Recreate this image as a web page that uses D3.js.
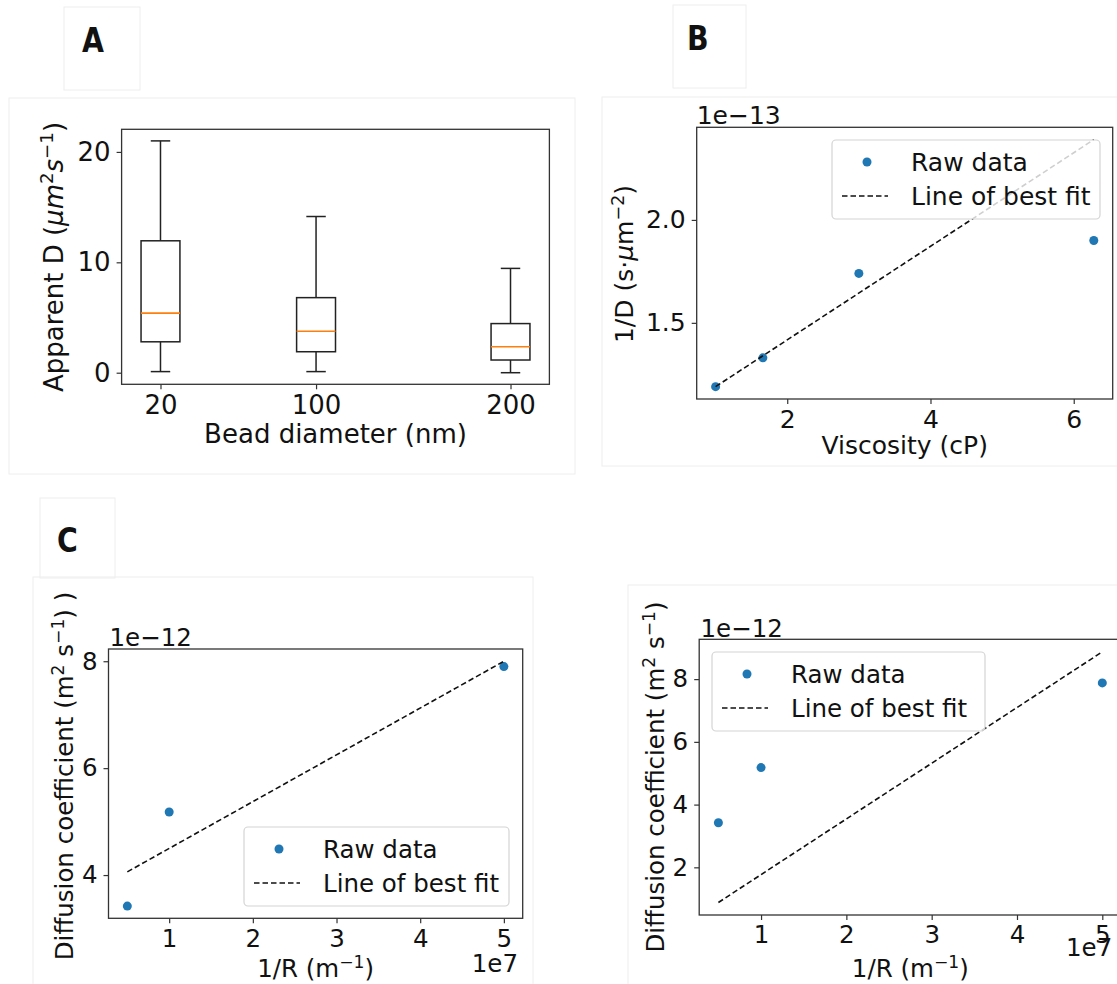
<!DOCTYPE html>
<meta charset="utf-8">
<script src="https://d3js.org/d3.v7.min.js"></script>
<style>
  body { margin: 0; background: #fff; }
  text { font-family: "DejaVu Sans", sans-serif; fill: #111; }
</style>
<svg id="fig" width="1117" height="984"></svg>
<script>

// ---- Panel A : apparent D vs bead diameter (box plot) ----
var beadDiameter = [20, 100, 200];
var whiskerLow   = [0.1, 0.1, 0.0];
var quartile1    = [2.8, 1.9, 1.15];
var medianD      = [5.4, 3.75, 2.35];
var quartile3    = [11.95, 6.8, 4.45];
var whiskerHigh  = [21.0, 14.15, 9.45];
var ticksA = [0, 10, 20];

// ---- Panel B : 1/D vs viscosity (x 1e-13) ----
var viscosity = [1.0, 1.66, 3.0, 6.28];
var invD      = [1.19, 1.33, 1.74, 1.90];
var fitViscosity = [1.0, 6.28];
var fitInvD      = [1.19, 2.39];

// ---- Panel C : diffusion coefficient (x 1e-12) vs 1/R (x 1e7) ----
var invR      = [0.5, 1.0, 5.0];
var diffLeft  = [3.42, 5.18, 7.90];
var diffRight = [3.42, 5.18, 7.88];
var fitInvR      = [0.5, 5.0];
var fitDiffLeft  = [4.06, 8.0];
var fitDiffRight = [0.88, 8.87];

var svg = d3.select("#fig");
var blue = "#1f77b4";

// matplotlib style 5% margins
function pad(ext) {
  var s = ext[1] - ext[0];
  return [ext[0] - 0.05 * s, ext[1] + 0.05 * s];
}

// text with simple mathtext pieces: {t, it, sup}
function rich(sel, parts, fs) {
  var shift = 0.38 * fs;
  var up = false;
  parts.forEach(function (p) {
    var ts = sel.append("tspan").text(p.t);
    if (p.it) ts.attr("font-style", "italic");
    if (p.sup && !up) { ts.attr("dy", -shift); up = true; }
    else if (!p.sup && up) { ts.attr("dy", shift); up = false; }
    if (p.sup) ts.attr("font-size", 0.7 * fs);
  });
  return sel;
}

function makeAxes(o) {
  var g = svg.append("g");
  var x = d3.scaleLinear().domain(o.xDomain).range([o.l, o.r]);
  var y = d3.scaleLinear().domain(o.yDomain).range([o.b, o.t]);

  var ax = g.append("g").attr("transform", "translate(0," + o.b + ")")
    .call(d3.axisBottom(x).tickValues(o.xTicks).tickFormat(o.xFormat || d3.format("d"))
      .tickSize(5).tickPadding(6).tickSizeOuter(0));
  var ay = g.append("g").attr("transform", "translate(" + o.l + ",0)")
    .call(d3.axisLeft(y).tickValues(o.yTicks).tickFormat(o.yFormat || d3.format("d"))
      .tickSize(5).tickPadding(6).tickSizeOuter(0));
  [ax, ay].forEach(function (a) {
    a.select(".domain").remove();
    a.selectAll("line").attr("stroke", "#333").attr("stroke-width", 1.2);
    a.selectAll("text").attr("font-size", o.fs).attr("fill", "#111")
      .attr("font-family", "DejaVu Sans, sans-serif");
  });

  var plot = g.append("g");
  g.append("rect")
    .attr("x", o.l).attr("y", o.t)
    .attr("width", o.r - o.l).attr("height", o.b - o.t)
    .attr("fill", "none").attr("stroke", "#333").attr("stroke-width", 1.3);
  return { g: g, plot: plot, x: x, y: y };
}

function legend(g, lx, ly, w, fs) {
  var h = 79;
  g.append("rect").attr("x", lx).attr("y", ly).attr("width", w).attr("height", h)
    .attr("rx", 4).attr("fill", "#fff").attr("fill-opacity", 0.8)
    .attr("stroke", "#d4d4d4").attr("stroke-width", 1.2);
  g.append("circle").attr("cx", lx + 35).attr("cy", ly + 22).attr("r", 4.5).attr("fill", blue);
  g.append("text").attr("x", lx + 79).attr("y", ly + 22).attr("dy", "0.36em")
    .attr("font-size", fs).text("Raw data");
  g.append("line").attr("x1", lx + 10).attr("x2", lx + 56)
    .attr("y1", ly + 56).attr("y2", ly + 56)
    .attr("stroke", "#111").attr("stroke-width", 1.6).attr("stroke-dasharray", "5.5,3");
  g.append("text").attr("x", lx + 79).attr("y", ly + 56).attr("dy", "0.36em")
    .attr("font-size", fs).text("Line of best fit");
}

function scatterFit(ax, xs, ys, fx, fy) {
  ax.plot.selectAll("circle.pt").data(xs).enter().append("circle")
    .attr("class", "pt")
    .attr("cx", function (d) { return ax.x(d); })
    .attr("cy", function (d, i) { return ax.y(ys[i]); })
    .attr("r", 4.5).attr("fill", blue);
  var line = d3.line()
    .x(function (d) { return ax.x(d); })
    .y(function (d, i) { return ax.y(fy[i]); });
  ax.plot.append("path").datum(fx).attr("d", line)
    .attr("fill", "none").attr("stroke", "#111").attr("stroke-width", 1.6)
    .attr("stroke-dasharray", "5.5,3");
}

// faint frames of the pasted figure parts
var frames = [[9, 98, 566, 376], [602, 97, 520, 369], [33, 577, 500, 410], [628, 585, 495, 402],
              [64, 7, 76, 83], [673, 5, 73, 83], [40, 498, 75, 80]];
svg.selectAll("rect.frame").data(frames).enter().append("rect")
  .attr("x", function (d) { return d[0]; }).attr("y", function (d) { return d[1]; })
  .attr("width", function (d) { return d[2]; }).attr("height", function (d) { return d[3]; })
  .attr("fill", "none").attr("stroke", "#eeeeee").attr("stroke-width", 1);

// panel letters
var letters = [["A", 82, 52], ["B", 687, 50], ["C", 57, 552]];
svg.selectAll("text.letter").data(letters).enter().append("text")
  .attr("transform", function (d) { return "translate(" + d[1] + "," + d[2] + ") scale(0.86,1)"; })
  .attr("font-family", "Liberation Sans Narrow, DejaVu Sans Condensed, sans-serif")
  .attr("font-weight", "bold").attr("font-size", 33).attr("fill", "#000")
  .text(function (d) { return d[0]; });

// ================= Panel A =================
var boxWidth = 20;
var fsA = 26;
var A = makeAxes({
  l: 121.6, t: 129.3, r: 549.4, b: 384.3, fs: fsA,
  xDomain: pad([d3.min(beadDiameter) - boxWidth / 2, d3.max(beadDiameter) + boxWidth / 2]),
  yDomain: pad([d3.min(whiskerLow), d3.max(whiskerHigh)]),
  xTicks: beadDiameter, yTicks: ticksA
});
var boxes = A.plot.selectAll("g.box").data(beadDiameter).enter().append("g").attr("class", "box");
boxes.each(function (d, i) {
  var g = d3.select(this);
  var cx = A.x(d), x0 = A.x(d - boxWidth / 2), x1 = A.x(d + boxWidth / 2);
  var c0 = A.x(d - boxWidth / 4), c1 = A.x(d + boxWidth / 4);
  g.append("line").attr("x1", cx).attr("x2", cx).attr("y1", A.y(whiskerLow[i])).attr("y2", A.y(quartile1[i]));
  g.append("line").attr("x1", cx).attr("x2", cx).attr("y1", A.y(quartile3[i])).attr("y2", A.y(whiskerHigh[i]));
  g.append("line").attr("x1", c0).attr("x2", c1).attr("y1", A.y(whiskerLow[i])).attr("y2", A.y(whiskerLow[i]));
  g.append("line").attr("x1", c0).attr("x2", c1).attr("y1", A.y(whiskerHigh[i])).attr("y2", A.y(whiskerHigh[i]));
  g.append("rect").attr("x", x0).attr("y", A.y(quartile3[i]))
    .attr("width", x1 - x0).attr("height", A.y(quartile1[i]) - A.y(quartile3[i]))
    .attr("fill", "none");
  g.selectAll("line, rect").attr("stroke", "#222").attr("stroke-width", 1.5);
  g.append("line").attr("x1", x0).attr("x2", x1).attr("y1", A.y(medianD[i])).attr("y2", A.y(medianD[i]))
    .attr("stroke", "#ff7f0e").attr("stroke-width", 1.6);
});
svg.append("text").attr("x", 335.5).attr("y", 443).attr("text-anchor", "middle")
  .attr("font-size", fsA).text("Bead diameter (nm)");
rich(svg.append("text").attr("transform", "translate(63,257) rotate(-90)")
  .attr("text-anchor", "middle").attr("font-size", fsA),
  [{ t: "Apparent D (" }, { t: "μm", it: true }, { t: "2", sup: true }, { t: "s", it: true },
   { t: "−1", sup: true }, { t: ")" }], fsA);

// ================= Panel B =================
var fsB = 25;
var B = makeAxes({
  l: 696.7, t: 127.3, r: 1112.7, b: 399, fs: fsB,
  xDomain: pad(d3.extent(fitViscosity.concat(viscosity))),
  yDomain: pad(d3.extent(fitInvD.concat(invD))),
  xTicks: [2, 4, 6], yTicks: [1.5, 2.0], yFormat: d3.format(".1f")
});
scatterFit(B, viscosity, invD, fitViscosity, fitInvD);
legend(svg, 832, 140, 268, fsB);
svg.append("text").attr("x", 696.7).attr("y", 124).attr("font-size", fsB).text("1e−13");
svg.append("text").attr("x", 904.7).attr("y", 454).attr("text-anchor", "middle")
  .attr("font-size", fsB).text("Viscosity (cP)");
rich(svg.append("text").attr("transform", "translate(633,264) rotate(-90)")
  .attr("text-anchor", "middle").attr("font-size", fsB),
  [{ t: "1/D (s·" }, { t: "μ", it: true }, { t: "m" }, { t: "−2", sup: true }, { t: ")" }], fsB);

// ================= Panel C (left) =================
var fsC = 24.5;
var CL = makeAxes({
  l: 108.5, t: 649, r: 522.7, b: 918.3, fs: fsC,
  xDomain: pad(d3.extent(invR)),
  yDomain: pad(d3.extent(fitDiffLeft.concat(diffLeft))),
  xTicks: [1, 2, 3, 4, 5], yTicks: [4, 6, 8]
});
scatterFit(CL, invR, diffLeft, fitInvR, fitDiffLeft);
legend(svg, 244, 827, 265, fsC);
svg.append("text").attr("x", 109.5).attr("y", 646).attr("font-size", fsC).text("1e−12");
svg.append("text").attr("x", 518).attr("y", 972).attr("text-anchor", "end")
  .attr("font-size", fsC).text("1e7");
rich(svg.append("text").attr("x", 315.6).attr("y", 977).attr("text-anchor", "middle").attr("font-size", fsC),
  [{ t: "1/R (m" }, { t: "−1", sup: true }, { t: ")" }], fsC);
rich(svg.append("text").attr("transform", "translate(73,776) rotate(-90)")
  .attr("text-anchor", "middle").attr("font-size", fsC),
  [{ t: "Diffusion coefficient (m" }, { t: "2", sup: true }, { t: " s" }, { t: "−1", sup: true }, { t: ") )" }], fsC);

// ================= Panel C (right) =================
var CR = makeAxes({
  l: 699.2, t: 639.3, r: 1121.5, b: 915, fs: fsC,
  xDomain: pad(d3.extent(invR)),
  yDomain: pad(d3.extent(fitDiffRight.concat(diffRight))),
  xTicks: [1, 2, 3, 4, 5], yTicks: [2, 4, 6, 8]
});
scatterFit(CR, invR, diffRight, fitInvR, fitDiffRight);
legend(svg, 712, 652, 273, fsC);
svg.append("text").attr("x", 700.5).attr("y", 637).attr("font-size", fsC).text("1e−12");
svg.append("text").attr("x", 1066).attr("y", 956).attr("font-size", fsC).text("1e7");
rich(svg.append("text").attr("x", 910.3).attr("y", 977).attr("text-anchor", "middle").attr("font-size", fsC),
  [{ t: "1/R (m" }, { t: "−1", sup: true }, { t: ")" }], fsC);
rich(svg.append("text").attr("transform", "translate(664,777) rotate(-90)")
  .attr("text-anchor", "middle").attr("font-size", fsC),
  [{ t: "Diffusion coefficient (m" }, { t: "2", sup: true }, { t: " s" }, { t: "−1", sup: true }, { t: ")" }], fsC);

</script>
